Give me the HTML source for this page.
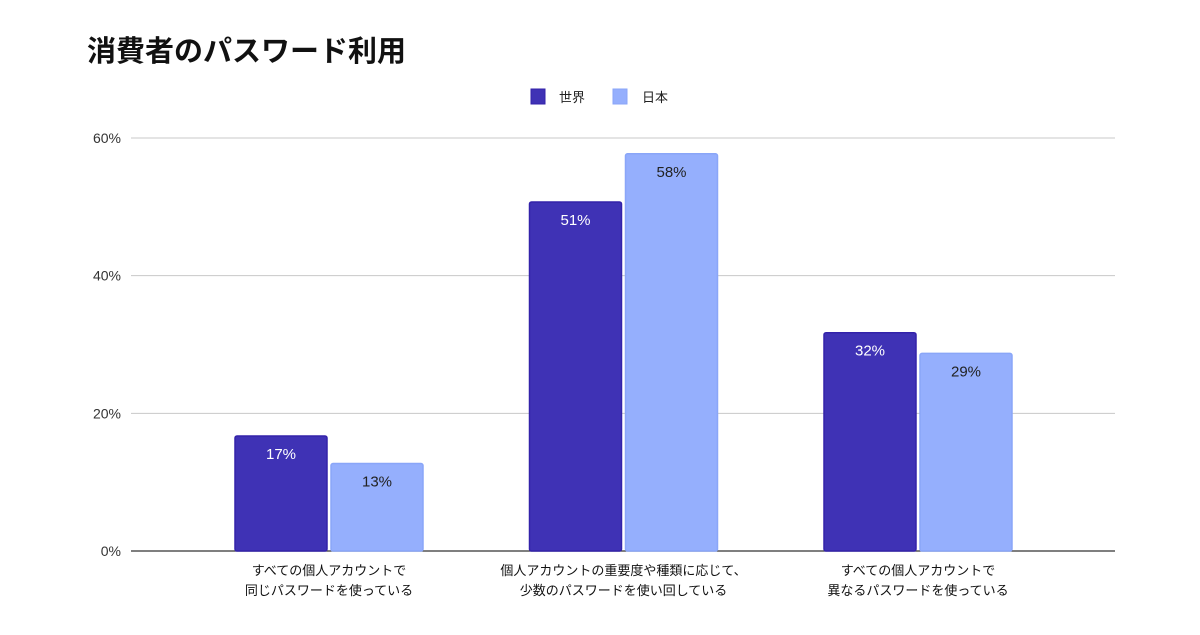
<!DOCTYPE html>
<html><head><meta charset="utf-8"><style>
body{margin:0;background:#fff;}
svg text{font-family:"Liberation Sans","Noto Sans CJK JP",sans-serif;}
</style></head><body>
<svg id="chart" width="1200" height="630" viewBox="0 0 1200 630" xmlns="http://www.w3.org/2000/svg">
<rect width="1200" height="630" fill="#fff"/>
<text x="87" y="61" font-size="29" font-weight="bold" fill="#111">消費者のパスワード利用</text>
<g>
<rect x="531" y="89" width="14" height="15" fill="#3f32b5" stroke="#3322aa"/>
<text x="559" y="102" font-size="13" fill="#222">世界</text>
<rect x="613" y="89" width="14" height="15" fill="#95affd" stroke="#8aa6f8"/>
<text x="642" y="102" font-size="13" fill="#222">日本</text>
</g>
<g id="grid"></g>
<g id="bars"></g>
<g id="xlabels"></g>
</svg>
<script>
const categoriesLine1 = ["すべての個人アカウントで","個人アカウントの重要度や種類に応じて、","すべての個人アカウントで"];
const categoriesLine2 = ["同じパスワードを使っている","少数のパスワードを使い回している","異なるパスワードを使っている"];
const worldValues = [17, 51, 32];
const japanValues = [13, 58, 29];
const yTicks = [0, 20, 40, 60];
const yTickLabels = ["0%","20%","40%","60%"];

const NS="http://www.w3.org/2000/svg";
const y0=551, yTop=138, yMax=60;
const yScale=v=>y0-(v/yMax)*(y0-yTop);
const xCenter=i=>329+i*294.5;
const bw=92, gap=4;
function mk(tag,attrs,parent){const e=document.createElementNS(NS,tag);for(const k in attrs)e.setAttribute(k,attrs[k]);parent.appendChild(e);return e;}
const grid=document.getElementById('grid'), bars=document.getElementById('bars'), xl=document.getElementById('xlabels');
yTicks.forEach((t,i)=>{
  const y=yScale(t);
  const l=mk('line',{x1:131,x2:1115,y1:y,y2:y,stroke:t===0?'#333':'#c8c8c8','stroke-width':t===0?1.3:1},grid);
  
  
  const tx=mk('text',{x:121,y:y+5,'text-anchor':'end','font-size':14,fill:'#333'},grid);
  tx.textContent=yTickLabels[i];
  
  
});
function bar(v,x,fill,stroke,labelColor){
  const y=yScale(v)+2;
  const r=mk('rect',{x:x,y:y,width:bw,height:y0-y,fill:fill,stroke:stroke,'stroke-width':1.5,rx:2},bars);
  
  
  const t=mk('text',{x:x+bw/2,y:y+23,'text-anchor':'middle','font-size':15,fill:labelColor},bars);
  t.textContent=v+'%';
  
  
}
worldValues.forEach((v,i)=>{
  const c=xCenter(i);
  bar(v,c-gap/2-bw,'#3f32b5','#3322aa','#fff');
  bar(japanValues[i],c+gap/2,'#95affd','#8aa6f8','#222');
  const a=mk('text',{x:c,y:575,'text-anchor':'middle','font-size':13,fill:'#111'},xl);
  a.textContent=categoriesLine1[i];
  
  
  const b=mk('text',{x:c,y:595,'text-anchor':'middle','font-size':13,fill:'#111'},xl);
  b.textContent=categoriesLine2[i];
  
  
});
</script>
</body></html>
